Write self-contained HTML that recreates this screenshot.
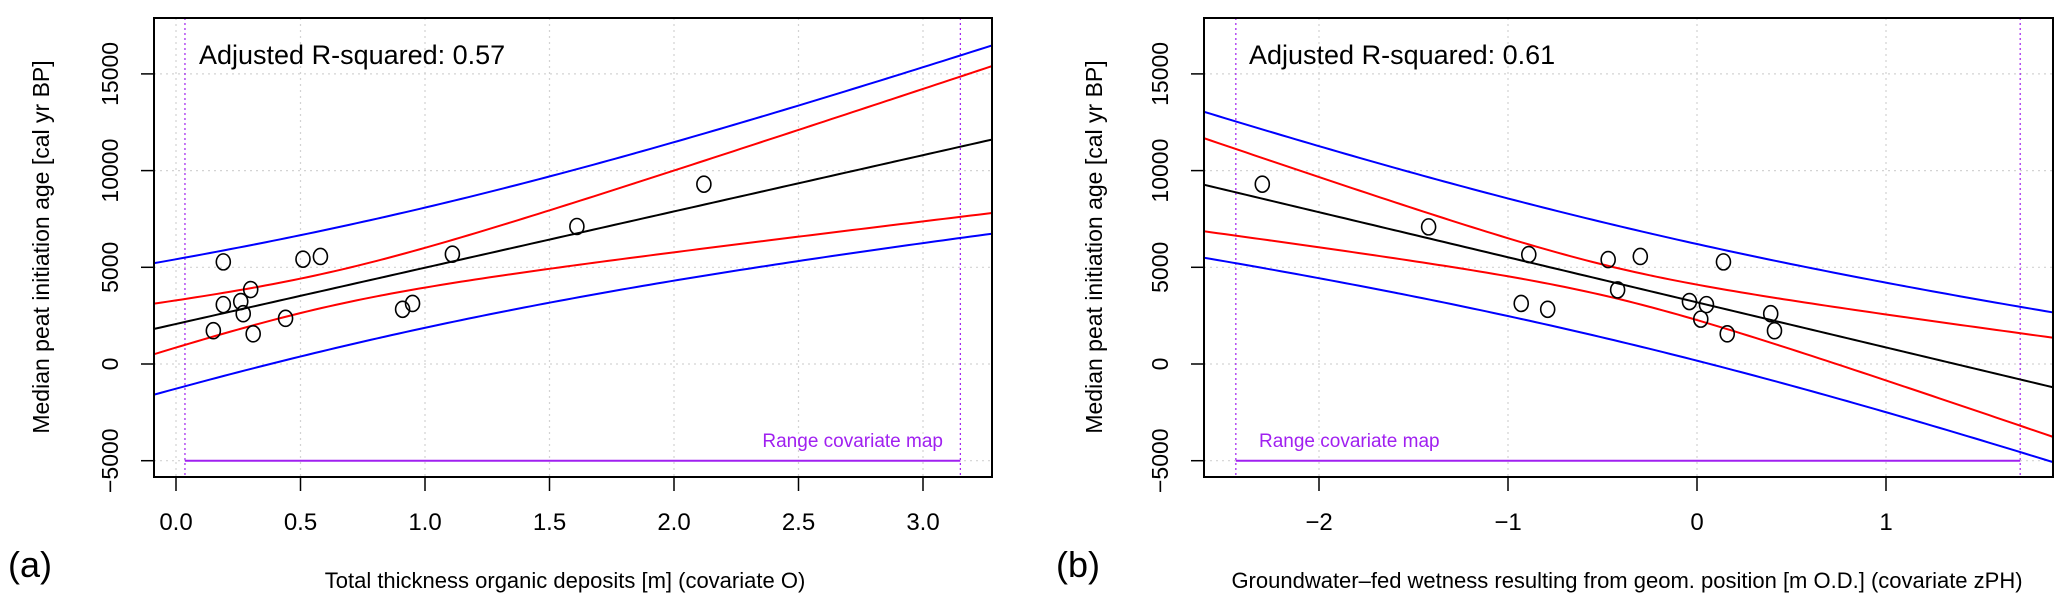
<!DOCTYPE html>
<html><head><meta charset="utf-8"><style>
html,body{margin:0;padding:0;background:#fff;}
svg{display:block;font-family:"Liberation Sans",Arial,sans-serif;}
</style></head><body>
<svg id="chart" width="2067" height="608" viewBox="0 0 2067 608" xmlns="http://www.w3.org/2000/svg"></svg>
<script>
// ---- Panel (a) data ----
const aPointsX = [0.19,0.51,0.58,1.11,1.61,2.12,0.30,0.19,0.26,0.27,0.15,0.31,0.44,0.91,0.95];
const aPointsY = [5280,5420,5560,5680,7110,9300,3850,3070,3230,2600,1720,1560,2360,2830,3130];
const aBandX = [-0.088,0.5,1.0,1.5,2.0,2.5,3.277];
const aFit = [2010,3460,4900,6360,7810,9260,11790];
const aConfUp = [3310,4650,6050,8480,10170,12300,15600];
const aConfLo = [670,2930,4140,5220,6050,6780,8000];
const aPredUp = [5380,6850,8320,10030,11830,13700,16700];
const aPredLo = [-1320,520,1960,3420,4750,5840,6880];
const aXTicks = ["0.0","0.5","1.0","1.5","2.0","2.5","3.0"];
const aRange = [0.036,3.15];
// ---- Panel (b) data ----
const bPointsX = [-2.30,-1.42,-0.89,-0.47,-0.30,0.14,-0.42,-0.93,-0.79,-0.04,0.05,0.02,0.39,0.41,0.16];
const bPointsY = [9300,7090,5660,5400,5560,5280,3830,3130,2830,3230,3070,2320,2600,1720,1560];
const bBandX = [-2.61,-2,-1,0,1,1.88];
const bFit = [9270,7850,5520,3190,860,-1200];
const bConfUp = [11690,9980,6450,3930,2630,1320];
const bConfLo = [6850,6360,4530,2320,-1000,-3730];
const bPredUp = [13050,11480,8560,6250,4330,2660];
const bPredLo = [5500,4640,2520,210,-2400,-5060];
const bXTicks = ["-2","-1","0","1"];
const bRange = [-2.44,1.71];
const yTicks = [-5000,0,5000,10000,15000];

const svg = document.getElementById('chart');
const NS = 'http://www.w3.org/2000/svg';
function mk(tag, attrs, parent){ const e=document.createElementNS(NS,tag); for(const k in attrs) e.setAttribute(k,attrs[k]); (parent||svg).appendChild(e); return e; }
const yScale = v => 364 - v*0.01934;
const TOP=18, BOT=477;

function linFit(xs, ys){
  const n=xs.length; let sx=0,sy=0,sxx=0,sxy=0;
  for(let i=0;i<n;i++){sx+=xs[i];sy+=ys[i];sxx+=xs[i]*xs[i];sxy+=xs[i]*ys[i];}
  const m=(n*sxy-sx*sy)/(n*sxx-sx*sx); return [m,(sy-m*sx)/n];
}
function quadFit(xs, ys){
  // least squares y = a + b x + c x^2
  const S=[[0,0,0],[0,0,0],[0,0,0]], T=[0,0,0];
  for(let i=0;i<xs.length;i++){const v=[1,xs[i],xs[i]*xs[i]];for(let r=0;r<3;r++){T[r]+=v[r]*ys[i];for(let c=0;c<3;c++)S[r][c]+=v[r]*v[c];}}
  const M=S.map((r,i)=>r.concat([T[i]]));
  for(let i=0;i<3;i++){let p=i;for(let r=i+1;r<3;r++)if(Math.abs(M[r][i])>Math.abs(M[p][i]))p=r;[M[i],M[p]]=[M[p],M[i]];
    for(let r=0;r<3;r++){if(r===i)continue;const f=M[r][i]/M[i][i];for(let c=i;c<4;c++)M[r][c]-=f*M[i][c];}}
  return [M[0][3]/M[0][0],M[1][3]/M[1][1],M[2][3]/M[2][2]];
}

function panel(cfg){
  const g = mk('g',{});
  
  
  const xS = v => cfg.x0 + (v - cfg.v0)*cfg.k;
  const L=cfg.left, R=cfg.right;
  const clipId='clip'+cfg.name;
  const cp=mk('clipPath',{id:clipId},g); mk('rect',{x:L,y:TOP,width:R-L,height:BOT-TOP},cp);
  cfg.ticks.forEach(t=>{
    const ln=mk('line',{x1:xS(+t),x2:xS(+t),y1:TOP,y2:BOT,stroke:'#d3d3d3','stroke-width':1.2,'stroke-dasharray':'2,4'},g);
    
    
  });
  yTicks.forEach(t=>{
    const ln=mk('line',{x1:L,x2:R,y1:yScale(t),y2:yScale(t),stroke:'#d3d3d3','stroke-width':1.2,'stroke-dasharray':'2,4'},g);
    
    
  });
  const cg=mk('g',{'clip-path':'url(#'+clipId+')'},g);
  cfg.range.forEach(r=>{
    const ln=mk('line',{x1:xS(r),x2:xS(r),y1:TOP,y2:BOT,stroke:'#a020f0','stroke-width':1.2,'stroke-dasharray':'2,3'},cg);
    
    
  });
  const rl=mk('line',{x1:xS(cfg.range[0]),x2:xS(cfg.range[1]),y1:yScale(-5000),y2:yScale(-5000),stroke:'#a020f0','stroke-width':2},cg);
  
  
  // regression fit and hyperbolic bands derived from the arrays
  const [m,q]=linFit(cfg.bandX,cfg.fit);
  const fitAt = x => m*x+q;
  function bandW(up,lo){
    const w2=up.map((u,i)=>Math.pow((u-lo[i])/2,2));
    const c=quadFit(cfg.bandX,w2);
    return x=>Math.sqrt(Math.max(0,c[0]+c[1]*x+c[2]*x*x));
  }
  const wConf=bandW(cfg.confUp,cfg.confLo), wPred=bandW(cfg.predUp,cfg.predLo);
  const xa=cfg.bandX[0], xb=cfg.bandX[cfg.bandX.length-1];
  const series=[[x=>fitAt(x)+wPred(x),'#0000ff','prediction-upper'],[x=>fitAt(x)-wPred(x),'#0000ff','prediction-lower'],
    [x=>fitAt(x)+wConf(x),'#ff0000','confidence-upper'],[x=>fitAt(x)-wConf(x),'#ff0000','confidence-lower'],[fitAt,'#000000','fit-line']];
  series.forEach(s=>{
    let d='';
    for(let i=0;i<=120;i++){const x=xa+(xb-xa)*i/120; d+=(i?' L':'M')+xS(x).toFixed(2)+','+yScale(s[0](x)).toFixed(2);}
    const p=mk('path',{d:d,fill:'none',stroke:s[1],'stroke-width':2},cg);
    
    
  });
  cfg.px.forEach((x,i)=>{
    const c=mk('ellipse',{cx:xS(x),cy:yScale(cfg.py[i]),rx:7,ry:8,fill:'none',stroke:'#000','stroke-width':1.6},g);
    
    
  });
  const box=mk('rect',{x:L,y:TOP,width:R-L,height:BOT-TOP,fill:'none',stroke:'#000','stroke-width':2},g);
  
  
  cfg.ticks.forEach(t=>{
    const x=xS(+t);
    const tk=mk('line',{x1:x,x2:x,y1:BOT,y2:491,stroke:'#000','stroke-width':1.5},g);
    
    
    const tx=mk('text',{x:x,y:530,'text-anchor':'middle','font-size':24},g);
    tx.textContent=t.replace('-','\u2212');
    
    
  });
  yTicks.forEach(t=>{
    const y=yScale(t);
    const tk=mk('line',{x1:L,x2:L-13,y1:y,y2:y,stroke:'#000','stroke-width':1.5},g);
    
    
    const tx=mk('text',{x:0,y:0,'text-anchor':'middle','font-size':23,transform:'translate('+(cfg.yLabX)+','+y+') rotate(-90)'},g);
    tx.textContent=String(t).replace('-','\u2212');
    
    
  });
  const yt=mk('text',{x:0,y:0,'text-anchor':'middle','font-size':23,transform:'translate('+cfg.yTitleX+',247) rotate(-90)'},g);
  yt.textContent='Median peat initiation age [cal yr BP]';
  
  
  const xt=mk('text',{x:cfg.xTitleX,y:588,'text-anchor':'middle','font-size':22},g);
  xt.textContent=cfg.xTitle;
  
  
  const pl=mk('text',{x:cfg.labelX,y:577,'font-size':36},g);
  pl.textContent=cfg.label;
  
  
  const r2=mk('text',{x:L+45,y:64,'font-size':27},g);
  r2.textContent=cfg.r2;
  
  
  const rt=mk('text',{x:cfg.rangeTextX,y:447,'font-size':19,fill:'#a020f0','text-anchor':cfg.rangeAnchor},g);
  rt.textContent='Range covariate map';
  
  
}

panel({name:'panel-a',left:154,right:992,x0:176,v0:0,k:249,ticks:aXTicks,range:aRange,
  bandX:aBandX,fit:aFit,confUp:aConfUp,confLo:aConfLo,predUp:aPredUp,predLo:aPredLo,px:aPointsX,py:aPointsY,
  yLabX:118,yTitleX:49,xTitleX:565,xTitle:'Total thickness organic deposits [m] (covariate O)',labelX:8,label:'(a)',
  r2:'Adjusted R-squared: 0.57',rangeTextX:943,rangeAnchor:'end'});
panel({name:'panel-b',left:1204,right:2053,x0:1697,v0:0,k:189,ticks:bXTicks,range:bRange,
  bandX:bBandX,fit:bFit,confUp:bConfUp,confLo:bConfLo,predUp:bPredUp,predLo:bPredLo,px:bPointsX,py:bPointsY,
  yLabX:1168,yTitleX:1102,xTitleX:1627,xTitle:'Groundwater\u2013fed wetness resulting from geom. position [m O.D.] (covariate zPH)',labelX:1056,label:'(b)',
  r2:'Adjusted R-squared: 0.61',rangeTextX:1259,rangeAnchor:'start'});
</script>
</body></html>
